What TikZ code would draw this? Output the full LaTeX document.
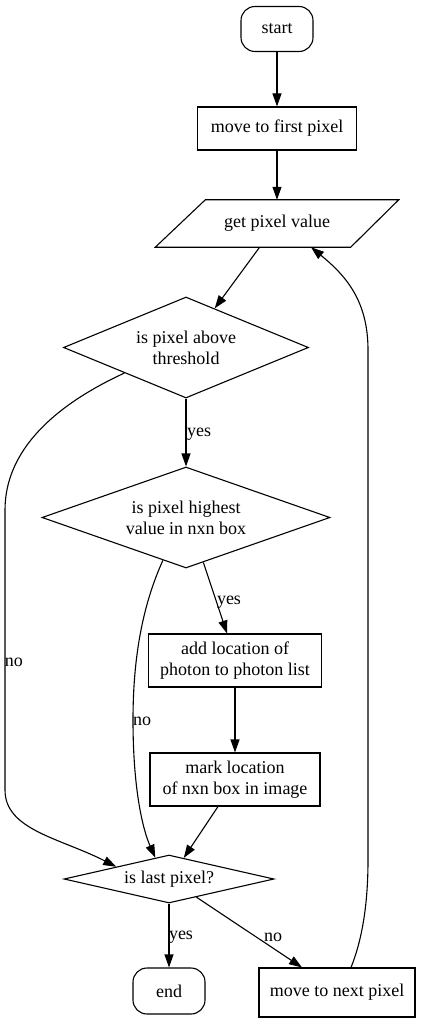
\documentclass[tikz,border=0pt]{standalone}
\usepackage{fontspec}
\setmainfont{Liberation Serif}
\usetikzlibrary{arrows.meta,shapes.geometric,calc}
\begin{document}
\begin{tikzpicture}[x=1pt,y=-1pt,
  every node/.style={font=\fontsize{18}{21}\selectfont},
  box/.style={draw, line width=1.1pt, rectangle, align=center, inner sep=0pt},
  term/.style={box, rounded corners=14pt},
  dia/.style={draw, line width=1.1pt, diamond, aspect=3, inner sep=0pt, align=center},
  conn/.style={line width=1.1pt, -{Triangle[length=13pt,width=9pt]}},
  lbl/.style={inner sep=0pt}]
\useasboundingbox[fill=white] (0,0) rectangle (423,1024);
% nodes
\node[term, minimum width=72, minimum height=45] (start) at (277,29) {start};
\node[box, minimum width=159, minimum height=43] (first) at (277,128.5) {move to first pixel};
\node[minimum width=243, minimum height=47, inner sep=0pt] (gpv) at (277,223.5) {get pixel value};
\draw[line width=1.1pt] (gpv.south west) -- ($(gpv.south east)+(-48,0)$) -- (gpv.north east) -- ($(gpv.north west)+(50,0)$) -- cycle;
\node[dia, minimum width=245, minimum height=101] (d1) at (186,347.5) {is pixel above\\threshold};
\node[dia, minimum width=288, minimum height=101] (d2) at (186,517.5) {is pixel highest\\value in nxn box};
\node[box, minimum width=173, minimum height=53] (add) at (235,660.5) {add location of\\photon to photon list};
\node[box, minimum width=170, minimum height=53] (mark) at (235,779.5) {mark location\\of nxn box in image};
\node[dia, aspect=4, minimum width=210, minimum height=48] (last) at (169,879) {is last pixel?};
\node[term, minimum width=72, minimum height=46] (end) at (169,991) {end};
\node[box, minimum width=156, minimum height=49] (next) at (337,992.5) {move to next pixel};
% connectors
\draw[conn] (start) -- (first);
\draw[conn] (first) -- (gpv);
\draw[conn] (gpv) -- (d1);
\draw[conn] (d1) -- (d2);
\draw[conn] (d1.south west) .. controls (55,405) and (5,450) .. (5,510) -- (5,790) .. controls (5,830) and (60,838) .. (last.north west);
\draw[conn] ($(d2.south)!0.12!(d2.east)$) -- ($(add.north)+(-8,0)$);
\draw[conn] ($(d2.west)!0.84!(d2.south)$) .. controls (145,600) and (133,650) .. (133,720) .. controls (133,790) and (143,830) .. ($(last.west)!0.87!(last.north)$);
\draw[conn] (add) -- (mark);
\draw[conn] ($(mark.south)+(-17,0)$) -- ($(last.north)!0.14!(last.east)$);
\draw[conn] (last) -- (end);
\draw[conn] ($(last.south)!0.26!(last.east)$) -- ($(next.north)+(-35,0)$);
\draw[conn] ($(next.north)+(14,0)$) .. controls (362,940) and (368,905) .. (368,860) -- (368,350) .. controls (368,300) and (345,275) .. ($(gpv.south)+(34,0)$);
% labels
\node[lbl, anchor=west] at (187,434) {yes};
\node[lbl] at (14,662) {no};
\node[lbl] at (229,602) {yes};
\node[lbl] at (142,721) {no};
\node[lbl] at (181,937) {yes};
\node[lbl] at (273,937) {no};
\end{tikzpicture}
\end{document}
